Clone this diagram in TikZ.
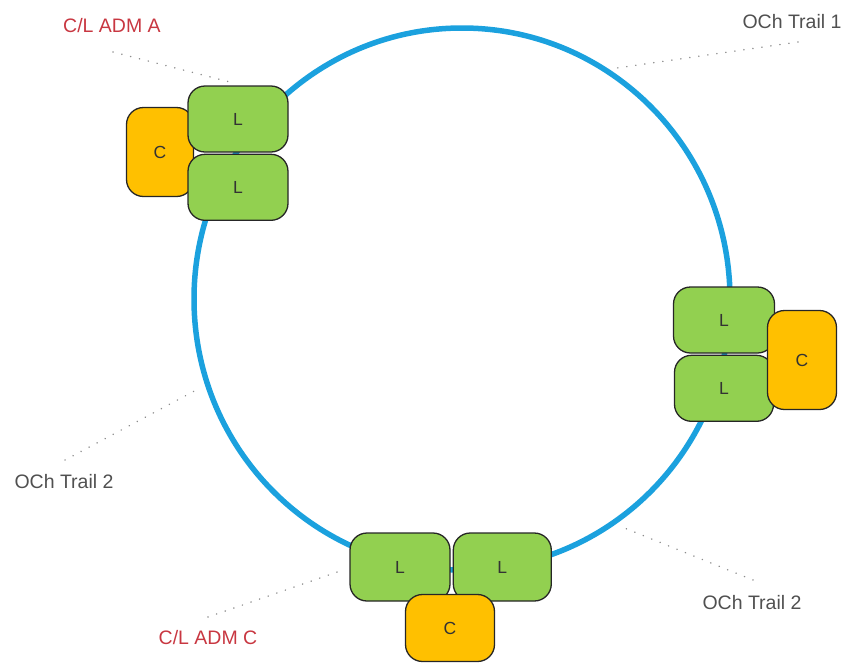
\documentclass[tikz,border=0pt]{standalone}
\usepackage{fontspec}
\setmainfont{Liberation Sans}
\usepackage{xcolor}
\usepackage{tikz}
\usetikzlibrary{positioning}

\definecolor{ringblue}{RGB}{27,161,222}
\definecolor{lgreen}{RGB}{146,208,80}
\definecolor{corange}{RGB}{255,192,0}
\definecolor{admred}{RGB}{200,55,65}
\definecolor{trailgray}{RGB}{80,80,80}

\begin{document}
\begin{tikzpicture}[
  x=1pt, y=-1pt,
  unit/.style={rectangle, draw=black!85, line width=1.3pt, rounded corners=17pt,
               inner sep=0pt, font=\fontsize{17.5}{20}\selectfont, text=black!80},
  lbox/.style={unit, fill=lgreen, minimum width=100pt, minimum height=66pt},
  cbox/.style={unit, fill=corange},
  adm/.style={font=\fontsize{19.5}{24}\selectfont, text=admred},
  trail/.style={font=\fontsize{19.5}{24}\selectfont, text=trailgray},
  leader/.style={gray!90, line width=1.6pt, dash pattern=on 0.1pt off 9pt, line cap=round}
]
  \useasboundingbox (0,0) rectangle (852,662);

  % ring
  \draw[ringblue, line width=5.5pt] (462,299) ellipse [x radius=268pt, y radius=271pt];

  % ADM A
  \node[cbox, minimum width=67pt, minimum height=89pt] (ca) at (160,152) {C};
  \node[lbox] (la1) at (238,119) {L};
  \node[lbox, below=1pt of la1] (la2) {L};

  % ADM B
  \node[lbox, minimum width=101pt] (lb1) at (724,320) {L};
  \node[lbox, minimum width=99pt, below=1pt of lb1] (lb2) {L};
  \node[cbox, minimum width=69pt, minimum height=99pt] (cb) at (802,360) {C};

  % ADM C
  \node[lbox, minimum height=68pt] (lc1) at (400,567) {L};
  \node[lbox, minimum width=98pt, minimum height=68pt, right=2pt of lc1] (lc2) {L};
  \node[cbox, minimum width=89pt, minimum height=67pt] (cc) at (450,628) {C};

  % labels
  \node[adm] (adma) at (112,26) {C/L ADM A};
  \node[adm] (admc) at (208,638) {C/L ADM C};
  \node[trail] (och1) at (792,22) {OCh Trail 1};
  \node[trail] (och2l) at (64,482) {OCh Trail 2};
  \node[trail] (och2r) at (752,603) {OCh Trail 2};

  % leader lines
  \coordinate (adma-s) at (113,52);
  \coordinate (adma-e) at (230,82);
  \coordinate (och1-s) at (798,42);
  \coordinate (och1-e) at (617,68);
  \coordinate (och2l-s) at (65,460);
  \coordinate (och2l-e) at (200,388);
  \coordinate (admc-s) at (208,617);
  \coordinate (admc-e) at (343,570);
  \coordinate (och2r-s) at (753,580);
  \coordinate (och2r-e) at (622,527);
  \draw[leader] (adma-s) -- (adma-e);
  \draw[leader] (och1-s) -- (och1-e);
  \draw[leader] (och2l-s) -- (och2l-e);
  \draw[leader] (admc-s) -- (admc-e);
  \draw[leader] (och2r-s) -- (och2r-e);
\end{tikzpicture}
\end{document}
